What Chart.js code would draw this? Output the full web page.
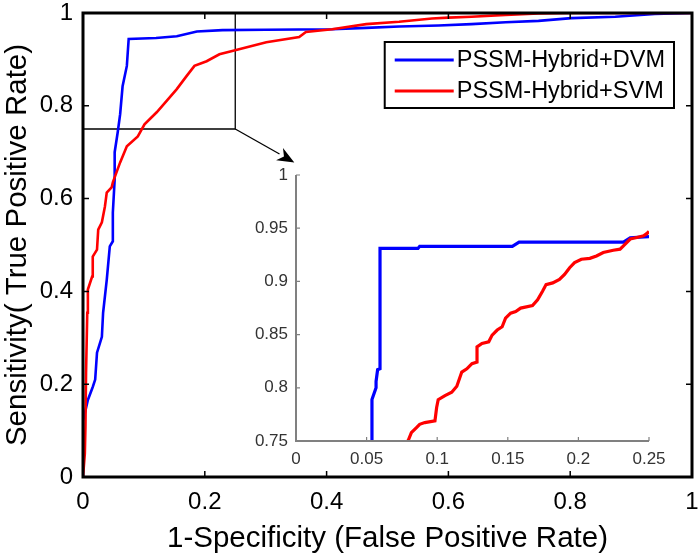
<!DOCTYPE html>
<html>
<head>
<meta charset="utf-8">
<script src="https://cdn.jsdelivr.net/npm/chart.js@4/dist/chart.umd.min.js"></script>
<style>
body { margin: 0; background: #fff; }
#wrap { position: relative; width: 700px; height: 560px; }
#mainChart { position: absolute; left: 0; top: 0; }
#insetChart { position: absolute; left: 236px; top: 160px; }
</style>
</head>
<body>
<div id="wrap">
  <canvas id="mainChart" width="700" height="560"></canvas>
  <canvas id="insetChart" width="450" height="320"></canvas>
</div>
<script>
// ROC curves
const blueX = [0, 0, 0.008, 0.016, 0.02, 0.023, 0.031, 0.033, 0.039, 0.044, 0.049, 0.049, 0.052, 0.052, 0.057, 0.061, 0.065, 0.072, 0.075, 0.12, 0.154, 0.187, 0.229, 0.30, 0.409, 0.465, 0.519, 0.584, 0.638, 0.694, 0.748, 0.802, 0.874, 0.939, 1];
const blueY = [0, 0.12, 0.166, 0.194, 0.21, 0.268, 0.302, 0.354, 0.425, 0.497, 0.508, 0.57, 0.641, 0.70, 0.743, 0.782, 0.842, 0.886, 0.944, 0.946, 0.95, 0.96, 0.963, 0.964, 0.965, 0.968, 0.971, 0.973, 0.976, 0.98, 0.983, 0.989, 0.992, 0.998, 1];
const redX = [0, 0.003, 0.004, 0.005, 0.007, 0.008, 0.015, 0.016, 0.023, 0.025, 0.031, 0.036, 0.039, 0.047, 0.049, 0.061, 0.072, 0.09, 0.101, 0.121, 0.137, 0.154, 0.17, 0.183, 0.203, 0.224, 0.245, 0.301, 0.355, 0.366, 0.409, 0.465, 0.519, 0.573, 0.60, 0.638, 0.694, 0.748, 0.80, 1];
const redY = [0, 0.05, 0.108, 0.225, 0.354, 0.404, 0.432, 0.475, 0.49, 0.533, 0.549, 0.583, 0.613, 0.624, 0.635, 0.678, 0.713, 0.734, 0.76, 0.786, 0.81, 0.836, 0.864, 0.886, 0.896, 0.911, 0.918, 0.937, 0.948, 0.959, 0.965, 0.976, 0.981, 0.988, 0.99, 0.992, 0.996, 0.999, 1, 1];

// zoomed view (inset)
const insetBlueX = [0.0538, 0.0538, 0.0567, 0.0567, 0.0578, 0.0595, 0.0595, 0.0864, 0.0876, 0.1532, 0.158, 0.2319, 0.2367, 0.25];
const insetBlueY = [0.75, 0.789, 0.80, 0.806, 0.817, 0.818, 0.931, 0.931, 0.933, 0.933, 0.937, 0.937, 0.941, 0.942];
const insetRedX = [0.075, 0.0793, 0.0817, 0.0853, 0.0876, 0.0912, 0.0984, 0.0996, 0.1007, 0.1055, 0.1103, 0.1139, 0.1174, 0.121, 0.1246, 0.1282, 0.1282, 0.1317, 0.1365, 0.1389, 0.1425, 0.146, 0.1484, 0.152, 0.1556, 0.1591, 0.1675, 0.1711, 0.1746, 0.1771, 0.1818, 0.1866, 0.1902, 0.1938, 0.1973, 0.2021, 0.2081, 0.2128, 0.2176, 0.2247, 0.2295, 0.2319, 0.2367, 0.2414, 0.2462, 0.2486, 0.25];
const insetRedY = [0.748, 0.750, 0.7578, 0.7625, 0.7657, 0.7673, 0.7689, 0.7815, 0.7888, 0.7926, 0.7958, 0.8014, 0.8148, 0.8179, 0.8227, 0.8242, 0.8384, 0.8416, 0.8432, 0.8495, 0.8543, 0.8574, 0.8654, 0.8701, 0.8717, 0.8749, 0.8773, 0.8828, 0.8907, 0.897, 0.8986, 0.9018, 0.9065, 0.9129, 0.9176, 0.9208, 0.9217, 0.9239, 0.9271, 0.9293, 0.9303, 0.9334, 0.9398, 0.9413, 0.9428, 0.9451, 0.947];

const seriesLabels = ['PSSM-Hybrid+DVM', 'PSSM-Hybrid+SVM'];
const seriesColors = ['#0000ff', '#ff0000'];
const mainTicks = [0, 0.2, 0.4, 0.6, 0.8, 1];
const insetXTicks = [0, 0.05, 0.1, 0.15, 0.2, 0.25];
const insetYTicks = [0.75, 0.8, 0.85, 0.9, 0.95, 1];

// zoom region and arrow tip, in main axis units
const zoomXMax = 0.25;
const zoomYMin = 0.75;
const arrowTip = { x: 0.347, y: 0.678 };

const fontFamily = "'Liberation Sans', Arial, sans-serif";
Chart.defaults.font.family = fontFamily;
Chart.defaults.color = '#000';

function toPoints(xs, ys) {
    return xs.map((x, i) => ({ x: x, y: ys[i] }));
}

function lineSet(label, color, xs, ys, width, order) {
    return {
        label: label,
        data: toPoints(xs, ys),
        showLine: true,
        borderColor: color,
        backgroundColor: color,
        borderWidth: width,
        pointRadius: 0,
        tension: 0,
        order: order
    };
}

// fixed scale size, no extra room for overhanging end labels
function fixSize(prop, size) {
    return s => {
        s[prop] = size;
        s.paddingTop = 0;
        s.paddingBottom = 0;
        s.paddingLeft = 0;
        s.paddingRight = 0;
    };
}

// inward tick marks on the given sides
function drawTicks(ctx, chart, xTicks, yTicks, len, sides) {
    const a = chart.chartArea;
    const xs = chart.scales.x, ys = chart.scales.y;
    ctx.beginPath();
    xTicks.forEach(v => {
        const px = xs.getPixelForValue(v);
        if (sides.bottom) { ctx.moveTo(px, a.bottom); ctx.lineTo(px, a.bottom - len); }
        if (sides.top) { ctx.moveTo(px, a.top); ctx.lineTo(px, a.top + len); }
    });
    yTicks.forEach(v => {
        const py = ys.getPixelForValue(v);
        if (sides.left) { ctx.moveTo(a.left, py); ctx.lineTo(a.left + len, py); }
        if (sides.right) { ctx.moveTo(a.right, py); ctx.lineTo(a.right - len, py); }
    });
    ctx.stroke();
}

const zoomMarker = {
    id: 'zoomMarker',
    beforeDatasetsDraw(chart) {
        const ctx = chart.ctx, a = chart.chartArea;
        const xs = chart.scales.x, ys = chart.scales.y;
        const zx = xs.getPixelForValue(zoomXMax), zy = ys.getPixelForValue(zoomYMin);
        const tx = xs.getPixelForValue(arrowTip.x), ty = ys.getPixelForValue(arrowTip.y);
        ctx.save();
        ctx.strokeStyle = '#000';
        ctx.lineWidth = 1.3;
        ctx.beginPath();
        ctx.moveTo(a.left, zy);
        ctx.lineTo(zx, zy);
        ctx.lineTo(zx, a.top);
        ctx.stroke();

        // arrow to the inset
        const ang = Math.atan2(ty - zy, tx - zx);
        const headLen = 17, headW = 7;
        const bx = tx - Math.cos(ang) * headLen, by = ty - Math.sin(ang) * headLen;
        ctx.beginPath();
        ctx.moveTo(zx, zy);
        ctx.lineTo(bx, by);
        ctx.stroke();
        ctx.fillStyle = '#000';
        ctx.beginPath();
        ctx.moveTo(tx, ty);
        ctx.lineTo(bx - Math.sin(ang) * headW, by + Math.cos(ang) * headW);
        ctx.lineTo(tx - Math.cos(ang) * headLen * 0.7, ty - Math.sin(ang) * headLen * 0.7);
        ctx.lineTo(bx + Math.sin(ang) * headW, by - Math.cos(ang) * headW);
        ctx.closePath();
        ctx.fill();
        ctx.restore();
    }
};

const mainFrame = {
    id: 'mainFrame',
    afterDraw(chart) {
        const ctx = chart.ctx, a = chart.chartArea;
        ctx.save();
        ctx.strokeStyle = '#000';
        ctx.lineWidth = 1.5;
        drawTicks(ctx, chart, mainTicks, mainTicks, 6, { top: true, bottom: true, left: true, right: true });
        ctx.lineWidth = 3;
        ctx.strokeRect(a.left, a.top, a.right - a.left, a.bottom - a.top);

        // legend box, top right inside the plot
        ctx.font = '23.5px ' + fontFamily;
        const textW = Math.max(...seriesLabels.map(t => ctx.measureText(t).width));
        const lineLen = 59, padL = 10, gap = 3, padR = 9;
        const boxW = padL + lineLen + gap + textW + padR, boxH = 66;
        const boxX = a.right - 18 - boxW, boxY = a.top + 29;
        ctx.fillStyle = '#fff';
        ctx.fillRect(boxX, boxY, boxW, boxH);
        ctx.lineWidth = 2;
        ctx.strokeRect(boxX, boxY, boxW, boxH);
        ctx.textBaseline = 'middle';
        ctx.textAlign = 'left';
        seriesLabels.forEach((label, i) => {
            const rowY = boxY + 18 + i * 31;
            ctx.strokeStyle = seriesColors[i];
            ctx.lineWidth = 3;
            ctx.beginPath();
            ctx.moveTo(boxX + padL, rowY);
            ctx.lineTo(boxX + padL + lineLen, rowY);
            ctx.stroke();
            ctx.fillStyle = '#000';
            ctx.fillText(label, boxX + padL + lineLen + gap, rowY + 1);
        });
        ctx.restore();
    }
};

const insetAxes = {
    id: 'insetAxes',
    afterDraw(chart) {
        const ctx = chart.ctx, a = chart.chartArea;
        ctx.save();
        ctx.strokeStyle = '#808080';
        ctx.lineWidth = 1.2;
        drawTicks(ctx, chart, insetXTicks, insetYTicks, 4, { bottom: true, left: true });
        ctx.lineWidth = 2;
        ctx.beginPath();
        ctx.moveTo(a.left, a.top);
        ctx.lineTo(a.left, a.bottom);
        ctx.lineTo(a.right, a.bottom);
        ctx.stroke();
        ctx.restore();
    }
};

function drawMainChart() {
    const ctx = document.getElementById('mainChart').getContext('2d');
    new Chart(ctx, {
        type: 'scatter',
        data: {
            datasets: [
                lineSet(seriesLabels[0], seriesColors[0], blueX, blueY, 2.6, 1),
                lineSet(seriesLabels[1], seriesColors[1], redX, redY, 2.6, 0)
            ]
        },
        options: {
            responsive: false,
            animation: false,
            layout: { padding: { left: 0, right: 8, top: 13, bottom: 3 } },
            plugins: { legend: { display: false }, tooltip: { enabled: false } },
            scales: {
                x: {
                    type: 'linear', min: 0, max: 1,
                    grid: { display: false, drawTicks: false },
                    border: { display: false },
                    afterBuildTicks: s => { s.ticks = mainTicks.map(v => ({ value: v })); },
                    afterFit: fixSize('height', 80),
                    ticks: { callback: v => String(v), font: { size: 24 }, padding: 11, maxRotation: 0 },
                    title: { display: true, text: '1-Specificity (False Positive Rate)', font: { size: 29.5 }, padding: 0 }
                },
                y: {
                    type: 'linear', min: 0, max: 1,
                    grid: { display: false, drawTicks: false },
                    border: { display: false },
                    afterBuildTicks: s => { s.ticks = mainTicks.map(v => ({ value: v })); },
                    afterFit: fixSize('width', 83),
                    ticks: { callback: v => String(v), font: { size: 24 }, padding: 10 },
                    title: { display: true, text: 'Sensitivity( True Positive Rate)', font: { size: 29.5 }, padding: 0 }
                }
            }
        },
        plugins: [zoomMarker, mainFrame]
    });
}

function drawInsetChart() {
    const ctx = document.getElementById('insetChart').getContext('2d');
    new Chart(ctx, {
        type: 'scatter',
        data: {
            datasets: [
                lineSet(seriesLabels[0], seriesColors[0], insetBlueX, insetBlueY, 3.2, 1),
                lineSet(seriesLabels[1], seriesColors[1], insetRedX, insetRedY, 3.2, 0)
            ]
        },
        options: {
            responsive: false,
            animation: false,
            layout: { padding: { left: 0, right: 37, top: 15, bottom: 0 } },
            plugins: { legend: { display: false }, tooltip: { enabled: false } },
            scales: {
                x: {
                    type: 'linear', min: 0, max: 0.25,
                    grid: { display: false, drawTicks: false },
                    border: { display: false },
                    afterBuildTicks: s => { s.ticks = insetXTicks.map(v => ({ value: v })); },
                    afterFit: fixSize('height', 39),
                    ticks: { callback: v => String(v), color: '#333', font: { size: 17 }, padding: 8, maxRotation: 0 }
                },
                y: {
                    type: 'linear', min: 0.75, max: 1,
                    grid: { display: false, drawTicks: false },
                    border: { display: false },
                    afterBuildTicks: s => { s.ticks = insetYTicks.map(v => ({ value: v })); },
                    afterFit: fixSize('width', 60),
                    ticks: { callback: v => String(v), color: '#333', font: { size: 17 }, padding: 8 }
                }
            }
        },
        plugins: [insetAxes]
    });
}

drawMainChart();
drawInsetChart();
</script>
</body>
</html>
